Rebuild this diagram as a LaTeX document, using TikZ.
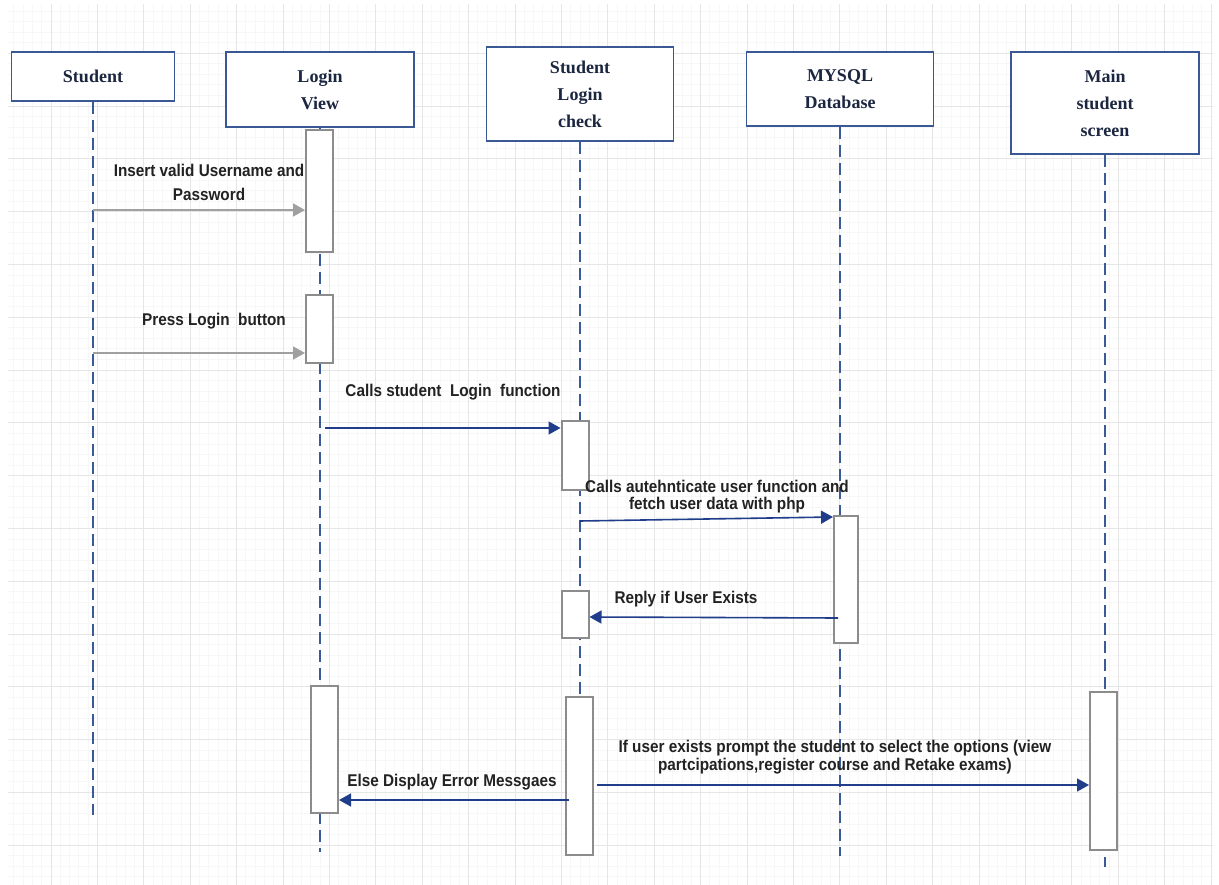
\documentclass[tikz,border=0pt]{standalone}
\usepackage{fontspec}
\setmainfont{Liberation Serif}
\newfontfamily\msgfont[FakeStretch=0.9]{Liberation Sans}
\usetikzlibrary{arrows.meta}

\definecolor{gridmajor}{HTML}{E6E6E6}
\definecolor{gridminor}{HTML}{F7F7F7}
\definecolor{headblue}{HTML}{3A5894}
\definecolor{headtext}{HTML}{1B2640}
\definecolor{lifeblue}{HTML}{3B5A98}
\definecolor{msgblue}{HTML}{1F3D8A}
\definecolor{msggray}{HTML}{A0A0A0}
\definecolor{bargray}{HTML}{8C8C8C}
\definecolor{labeltext}{HTML}{222222}

\begin{document}
\begin{tikzpicture}[x=1pt,y=-1pt,
  actor/.style={draw=headblue, line width=1.7pt, fill=white, inner sep=0pt,
    font=\fontsize{18}{27}\selectfont\bfseries, text=headtext, align=center},
  bar/.style={draw=bargray, line width=2pt, fill=white, inner sep=0pt,
    minimum width=27pt},
  life/.style={draw=lifeblue, line width=1.8pt, dash pattern=on 12pt off 6pt},
  call/.style={draw=msgblue, line width=1.6pt, -{Triangle[length=12pt,width=13pt]}},
  input/.style={draw=msggray, line width=1.8pt, -{Triangle[length=12pt,width=13pt]}},
  msg/.style={font=\msgfont\bfseries\fontsize{17}{24}\selectfont, text=labeltext,
    align=center, inner sep=0pt},
]
% page and background grid (lines snapped to whole units)
\useasboundingbox (0,0) rectangle (1219,885);
\fill[white] (0,0) rectangle (1219,885);
\begin{scope}
  \clip (8,5) rectangle (1213,885);
  \foreach \i in {0,...,131}
    \draw[gridminor, line width=0.7pt] ({round(4.2+9.28*\i)+0.5},0) -- ({round(4.2+9.28*\i)+0.5},885);
  \foreach \j in {0,...,84}
    \draw[gridminor, line width=0.7pt] (0,{round(10.56*\j)+0.5}) -- (1219,{round(10.56*\j)+0.5});
  \foreach \i in {0,...,26}
    \draw[gridmajor, line width=1pt] ({round(4.2+46.4*\i)+0.5},0) -- ({round(4.2+46.4*\i)+0.5},885);
  \foreach \j in {0,...,17}
    \draw[gridmajor, line width=1pt] (0,{round(52.8*\j)+0.5}) -- (1219,{round(52.8*\j)+0.5});
\end{scope}

% participants
\node[actor, minimum width=163pt, minimum height=49pt]  (stu) at (93,76.5)  {Student};
\node[actor, minimum width=188pt, minimum height=75pt]  (lv)  at (320,89.5) {Login\\View};
\node[actor, minimum width=187pt, minimum height=94pt]  (ck)  at (580,94)   {Student\\Login\\check};
\node[actor, minimum width=187pt, minimum height=74pt]  (db)  at (840,89)   {MYSQL\\Database};
\node[actor, minimum width=188pt, minimum height=102pt] (ms)  at (1105,103) {Main\\student\\screen};

% lifeline ends
\coordinate (stuEnd) at (93,815);
\coordinate (lvEnd)  at (320,852);
\coordinate (ckEnd)  at (580,850);
\coordinate (dbEnd)  at (840,856);
\coordinate (msEnd)  at (1105,867);

\draw[life] (stu.south) -- (stuEnd);
\draw[life] (lv.south)  -- (lvEnd);
\draw[life] (ck.south)  -- (ckEnd);
\draw[life] (db.south)  -- (dbEnd);
\draw[life] (ms.south)  -- (msEnd);

% activation bars
\node[bar, minimum height=122pt] (lv1) at (319.5,191)   {};
\node[bar, minimum height=68pt]  (lv2) at (319.5,329)   {};
\node[bar, minimum height=69pt]  (ck1) at (575,455.5)   {};
\node[bar, minimum width=24pt, minimum height=127pt] (db1) at (846,579.5) {};
\node[bar, minimum height=47pt]  (ck2) at (575,614.5)   {};
\node[bar, minimum height=127pt] (lv3) at (324.5,749.5) {};
\node[bar, minimum height=158pt] (ck3) at (579.5,776)   {};
\node[bar, minimum height=158pt] (ms1) at (1103.5,771)  {};

% message start points
\coordinate (m1) at (93,210);
\coordinate (m2) at (93,353);
\coordinate (m3) at (325,428);
\coordinate (m4) at (580,521);
\coordinate (m5) at (838,618);
\coordinate (m6) at (597,785);
\coordinate (m7) at (569,800);

% messages
\draw[input] (m1) -- (lv1.west |- m1);
\draw[input] (m2) -- (lv2.west |- m2);
\draw[call]  (m3) -- (ck1.west |- m3);
\draw[call]  (m4) -- ([yshift=4pt]db1.west |- m4);
\draw[call]  (m5) -- ([yshift=1pt]ck2.east |- m5);
\draw[call]  (m6) -- (ms1.west |- m6);
\draw[call]  (m7) -- (lv3.east |- m7);

% message labels
\node[msg] (l1) at (209,182) {Insert valid Username and\\Password};
\node[msg] (l2) at (214,321) {Press Login\ \ button};
\node[msg] (l3) at (453,392) {Calls student\ \ Login\ \ function};
\node[msg, font=\msgfont\bfseries\fontsize{17}{17}\selectfont] (l4) at (717,497)
  {Calls autehnticate user function and\\fetch user data with php};
\node[msg] (l5) at (686,599) {Reply if User Exists};
\node[msg, font=\msgfont\bfseries\fontsize{17}{18}\selectfont] (l6) at (835,757)
  {If user exists prompt the student to select the options (view\\partcipations,register course and Retake exams)};
\node[msg] (l7) at (452,782) {Else Display Error Messgaes};
\end{tikzpicture}
\end{document}
